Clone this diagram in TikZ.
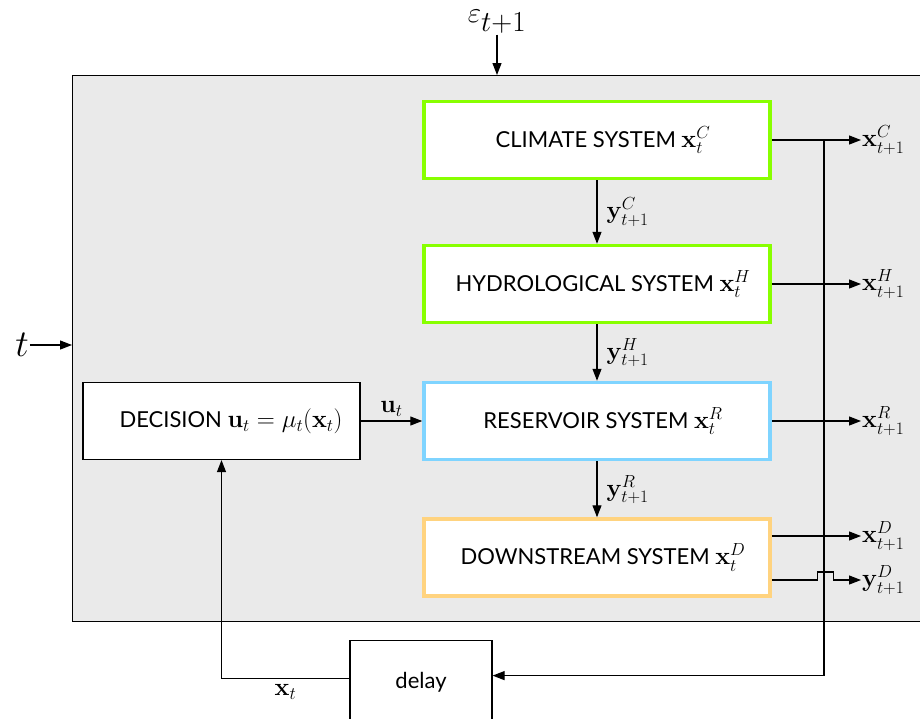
\documentclass[tikz,border=0pt]{standalone}
\usepackage{fix-cm}
\usepackage[no-math]{fontspec}
\setmainfont{Lato}
\usetikzlibrary{arrows.meta}
% math set a little larger than the surrounding text
\DeclareMathSizes{22}{25}{17.5}{12.5}

\definecolor{envgray}{RGB}{234,234,234}
\definecolor{climgreen}{RGB}{136,255,0}
\definecolor{resblue}{RGB}{127,212,255}
\definecolor{downorange}{RGB}{255,211,127}

\begin{document}
\begin{tikzpicture}[x=1pt,y=-1pt,
  every node/.style={font=\fontsize{22}{26}\selectfont},
  sysbox/.style={draw=#1, line width=3.5pt, fill=white,
    minimum width=346pt, minimum height=77pt, inner sep=0pt},
  plainbox/.style={draw=black, line width=1.2pt, fill=white, inner sep=0pt},
  conn/.style={line width=1.2pt},
  arr/.style={conn, -{Triangle[length=12pt,width=9pt]}},
  outlab/.style={anchor=west, inner sep=1pt},
  flowlab/.style={right, inner sep=1pt, xshift=8pt}
]
\clip (0,0) rectangle (920,718);

% controlled environment
\node[draw, line width=1.2pt, fill=envgray, anchor=north west,
  minimum width=870pt, minimum height=546pt, inner sep=0pt] (env) at (72,75) {};

% subsystems (text nudged right of centre)
\node[sysbox=climgreen] (clim) at (597,140)
  {\hspace*{12pt}CLIMATE SYSTEM $\mathbf{x}_t^C$};
\node[sysbox=climgreen] (hydro) at (597,284)
  {\hspace*{12pt}HYDROLOGICAL SYSTEM $\mathbf{x}_t^H$};
\node[sysbox=resblue] (res) at (597,421)
  {\hspace*{12pt}RESERVOIR SYSTEM $\mathbf{x}_t^R$};
\node[sysbox=downorange] (down) at (597,557.5)
  {\hspace*{12pt}DOWNSTREAM SYSTEM $\mathbf{x}_t^D$};

\node[plainbox, minimum width=277pt, minimum height=77pt] (dec) at (221.5,421)
  {\hspace*{19pt}DECISION $\mathbf{u}_t=\mu_t(\mathbf{x}_t)$};
\node[plainbox, minimum width=142pt, minimum height=84pt, anchor=north] (delay)
  at (421,640) {delay};

% external inputs
\node[font=\fontsize{29}{34}\selectfont, inner sep=1pt] (eps) at (497,22)
  {$\varepsilon_{\textstyle t{+}1}$};
\node[font=\fontsize{38}{44}\selectfont, inner sep=1pt] (tlab) at (22,345) {$t$};
\draw[arr] (eps.south) -- (eps.south |- env.north);
\draw[arr] (tlab.east) -- (tlab.east -| env.west);

% cascade of subsystems
\draw[arr] (clim) -- (hydro) node[midway, flowlab] (yC) {$\mathbf{y}_{t+1}^C$};
\draw[arr] (hydro) -- (res) node[midway, flowlab] (yH) {$\mathbf{y}_{t+1}^H$};
\draw[arr] (res) -- (down) node[midway, flowlab] (yR) {$\mathbf{y}_{t+1}^R$};
\draw[arr] (dec) -- (res) node[midway, above, inner sep=4pt] (ul) {$\mathbf{u}_t$};

% outputs
\node[outlab] (oxC) at (861,140) {$\mathbf{x}_{t+1}^C$};
\node[outlab] (oxH) at (861,284) {$\mathbf{x}_{t+1}^H$};
\node[outlab] (oxR) at (861,421) {$\mathbf{x}_{t+1}^R$};
\node[outlab] (oxD) at (861,536) {$\mathbf{x}_{t+1}^D$};
\node[outlab] (oyD) at (861,580) {$\mathbf{y}_{t+1}^D$};

\draw[arr] (clim.east) -- (oxC.west);
\draw[arr] (hydro.east) -- (oxH.west);
\draw[arr] (res.east) -- (oxR.west);
\draw[arr] (down.east |- oxD.west) -- (oxD.west);
\draw[arr] (down.east |- oyD.west) -- ++(46,0) -- ++(0,-8) -- ++(16,0)
  -- ++(0,8) -- (oyD.west);

% state feedback through the delay
\coordinate (fb) at (824,140);
\draw[arr] (fb) -- ([yshift=7pt]delay.east -| fb) -- ([yshift=7pt]delay.east);
\draw[arr] ([yshift=4pt]delay.west) -| (dec.south)
  node[pos=0.25, below, inner sep=5pt] (xtl) {$\mathbf{x}_t$};
\end{tikzpicture}
\end{document}
